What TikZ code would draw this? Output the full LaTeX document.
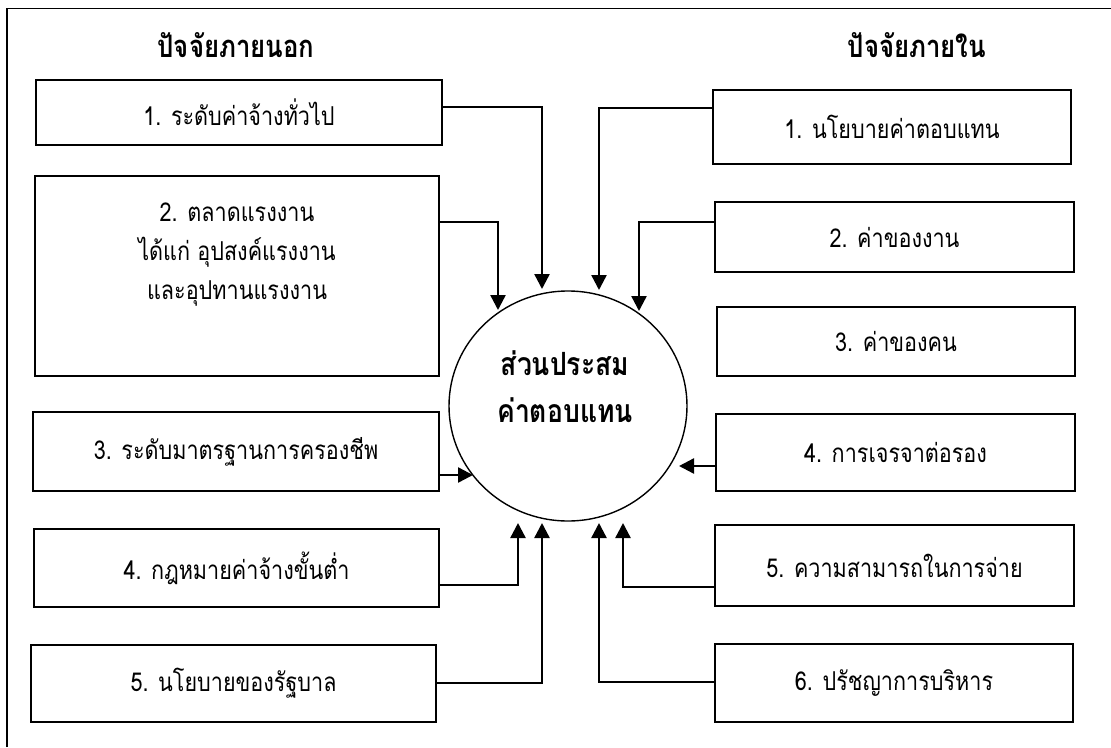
\documentclass[tikz,border=0pt]{standalone}
\usepackage{fontspec}
\setmainfont[Script=Thai, FakeStretch=0.83]{Loma}
\usetikzlibrary{arrows.meta,shapes.geometric}

\begin{document}
\begin{tikzpicture}[
    x=1pt, y=-1pt,
    factorbox/.style={draw, line width=1.6pt, inner sep=0pt, align=center,
                      font=\fontsize{26}{39}\selectfont},
    heading/.style={font=\fontsize{31}{36}\selectfont\bfseries},
    feed/.style={line width=2.4pt, -{Triangle[length=15pt,width=15pt]}},
  ]
  \useasboundingbox (0,0) rectangle (1111,747);

  % open frame: top and left edges only
  \draw[line width=1.8pt] (7,747) -- (7,8.5) -- (1111,8.5);

  % column headings
  \node[heading] (hout) at (236,45) {ปัจจัยภายนอก};
  \node[heading] (hin)  at (917,45) {ปัจจัยภายใน};

  % central element
  \node[draw, ellipse, line width=1.4pt, minimum width=238pt, minimum height=230pt,
        inner sep=0pt] (mix) at (568,406) {};
  \node[align=center, font=\fontsize{32}{47}\selectfont\bfseries] (mixt) at (565,387)
       {ส่วนประสม\\ค่าตอบแทน};

  % external factors
  \node[factorbox, minimum width=406pt, minimum height=65pt] (L1) at (239,112.5)
       {1. ระดับค่าจ้างทั่วไป};
  \node[factorbox, minimum width=404pt, minimum height=200pt] (L2) at (237,276) {};
  \node[align=center, font=\fontsize{26}{39}\selectfont] (L2t) at (237,255)
       {2. ตลาดแรงงาน\\ได้แก่ อุปสงค์แรงงาน\\และอุปทานแรงงาน};
  \node[factorbox, minimum width=406pt, minimum height=79pt] (L3) at (236,451.5)
       {3. ระดับมาตรฐานการครองชีพ};
  \node[factorbox, minimum width=405pt, minimum height=78pt] (L4) at (236.5,568)
       {4. กฎหมายค่าจ้างขั้นต่ำ};
  \node[factorbox, minimum width=405pt, minimum height=77pt] (L5) at (233.5,683.5)
       {5. นโยบายของรัฐบาล};

  % internal factors
  \node[factorbox, minimum width=358pt, minimum height=74pt] (R1) at (892,127)
       {1. นโยบายค่าตอบแทน};
  \node[factorbox, minimum width=359pt, minimum height=70pt] (R2) at (894.5,237)
       {2. ค่าของงาน};
  \node[factorbox, minimum width=358pt, minimum height=69pt] (R3) at (896,341.5)
       {3. ค่าของคน};
  \node[factorbox, minimum width=359pt, minimum height=77pt] (R4) at (895.5,452.5)
       {4. การเจรจาต่อรอง};
  \node[factorbox, minimum width=359pt, minimum height=81pt] (R5) at (894.5,565.5)
       {5. ความสามารถในการจ่าย};
  \node[factorbox, minimum width=358pt, minimum height=78pt] (R6) at (894,683)
       {6. ปรัชญาการบริหาร};

  % arrow tips around the central element
  \coordinate (tL1) at (542,289);
  \coordinate (tL2) at (498,310);
  \coordinate (tL3) at (473,475);
  \coordinate (tL4) at (518,523);
  \coordinate (tL5) at (542,523);
  \coordinate (tR1) at (599,290);
  \coordinate (tR2) at (639,311);
  \coordinate (tR4) at (679,466);
  \coordinate (tR5) at (623,523);
  \coordinate (tR6) at (599,523);

  % connectors
  \draw[feed] (L1.east |- 0,107) -| (tL1);
  \draw[feed] (L2.east |- 0,222) -| (tL2);
  \draw[feed] (L3.east |- 0,475) -- (tL3);
  \draw[feed] (L4.east |- 0,585) -| (tL4);
  \draw[feed] (L5.east |- 0,683) -| (tL5);
  \draw[feed] (R1.west |- 0,108) -| (tR1);
  \draw[feed] (R2.west |- 0,222) -| (tR2);
  \draw[feed] (R4.west |- 0,466) -- (tR4);
  \draw[feed] (R5.west |- 0,587) -| (tR5);
  \draw[feed] (R6.west |- 0,682) -| (tR6);
\end{tikzpicture}
\end{document}
